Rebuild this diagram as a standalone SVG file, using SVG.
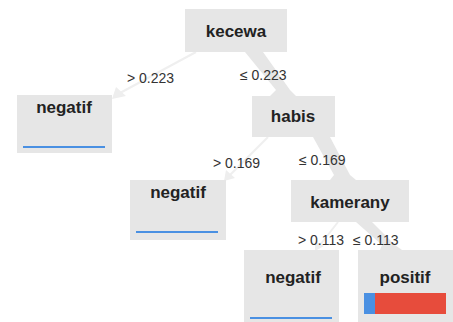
<svg xmlns="http://www.w3.org/2000/svg" width="453" height="322" viewBox="0 0 453 322">
<defs>
<style>
.node{fill:#e6e6e6}
.title{font-family:"Liberation Sans",Arial,sans-serif;font-weight:bold;font-size:17px;fill:#222;text-anchor:middle}
.lbl{font-family:"Liberation Sans",Arial,sans-serif;font-size:14px;fill:#333}
.thin{stroke:#efefef;stroke-width:2;fill:none}
.thick{fill:#e6e6e6}
.thinhead{fill:#eeeeee}
.blue{fill:#4a90e2}
.red{fill:#e74c3c}
</style>
</defs>
<rect width="453" height="322" fill="#ffffff"/>
<g id="connectors">
<line class="thin" x1="196" y1="52" x2="120" y2="93"/>
<polygon class="thinhead" points="112,99 116,87 126,96"/>
<polygon class="thick" points="245,52 263,52 290,90 296,96 270,96 276,90"/>
<line class="thin" x1="268" y1="137" x2="230" y2="175"/>
<polygon class="thinhead" points="224,181 226,170 235,178"/>
<polygon class="thick" points="313,137 330,137 350,175 356,180 330,180 334,175"/>
<line class="thin" x1="338" y1="222" x2="320" y2="245"/>
<polygon class="thinhead" points="315,251 315,241 324,246"/>
<polygon class="thick" points="356,222 372,222 395,245 402,250 380,250 382,245"/>
</g>
<g id="n-kecewa">
<rect class="node" x="185" y="9" width="102" height="43"/>
<text class="title" x="236" y="37">kecewa</text>
</g>
<g id="n-negatif1">
<rect class="node" x="17" y="95" width="95" height="58"/>
<text class="title" x="64" y="113">negatif</text>
<rect class="blue" x="23" y="146" width="82" height="2"/>
</g>
<g id="n-habis">
<rect class="node" x="252" y="96" width="83" height="41"/>
<text class="title" x="293" y="122">habis</text>
</g>
<g id="n-negatif2">
<rect class="node" x="130" y="180" width="96" height="60"/>
<text class="title" x="178" y="198">negatif</text>
<rect class="blue" x="136" y="231" width="82" height="2"/>
</g>
<g id="n-kamerany">
<rect class="node" x="291" y="180" width="118" height="42"/>
<text class="title" x="350" y="208">kamerany</text>
</g>
<g id="n-negatif3">
<rect class="node" x="244" y="250" width="95" height="72"/>
<text class="title" x="293" y="283">negatif</text>
<rect class="blue" x="250" y="317" width="82" height="2"/>
</g>
<g id="n-positif">
<rect class="node" x="358" y="250" width="95" height="72"/>
<text class="title" x="405" y="283">positif</text>
<rect class="blue" x="364" y="293" width="11" height="21"/>
<rect class="red" x="375" y="293" width="71" height="21"/>
</g>
<g id="labels">
<text class="lbl" x="127" y="83">&gt; 0.223</text>
<text class="lbl" x="240" y="80">≤ 0.223</text>
<text class="lbl" x="213" y="168">&gt; 0.169</text>
<text class="lbl" x="299" y="165">≤ 0.169</text>
<text class="lbl" x="298" y="245">&gt; 0.113</text>
<text class="lbl" x="353" y="245">≤ 0.113</text>
</g>
</svg>
